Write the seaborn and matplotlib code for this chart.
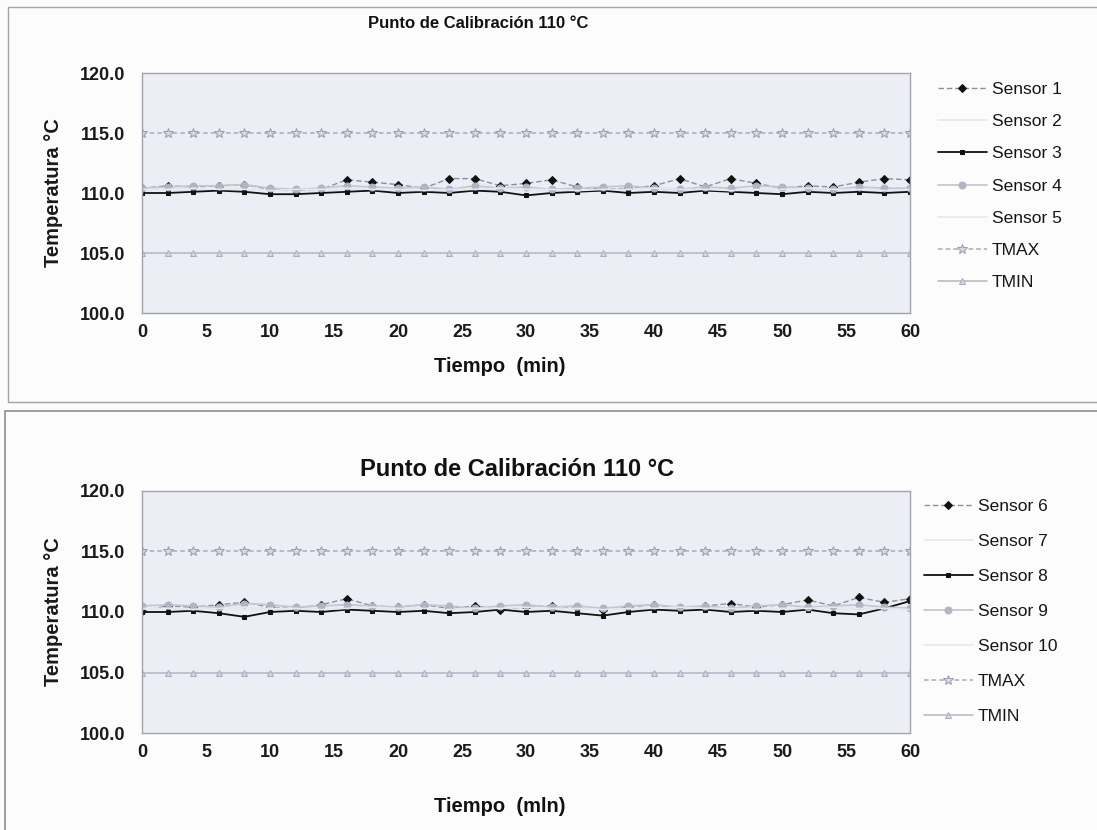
import numpy as np
import pandas as pd
import matplotlib
matplotlib.use("Agg")
import matplotlib.pyplot as plt
from matplotlib.patches import Rectangle
import seaborn as sns

# ---- data -------------------------------------------------------------
tiempo = list(range(0, 61, 2))

sensor_1 = [110.4, 110.6, 110.5, 110.6, 110.7, 110.3, 110.2, 110.3, 111.1, 110.9, 110.7,
            110.4, 111.2, 111.2, 110.6, 110.8, 111.1, 110.5, 110.3, 110.4, 110.6, 111.2,
            110.5, 111.2, 110.8, 110.4, 110.6, 110.5, 110.9, 111.2, 111.1]
sensor_2 = [110.2, 110.3, 110.2, 110.2, 110.3, 110.2, 110.1, 110.2, 110.3, 110.2, 110.2,
            110.3, 110.2, 110.2, 110.3, 110.2, 110.2, 110.1, 110.2, 110.3, 110.2, 110.2,
            110.3, 110.2, 110.2, 110.1, 110.2, 110.3, 110.2, 110.2, 110.3]
sensor_3 = [110.0, 110.0, 110.1, 110.2, 110.1, 109.9, 109.9, 110.0, 110.1, 110.2, 110.0,
            110.1, 110.0, 110.2, 110.1, 109.8, 110.0, 110.1, 110.2, 110.0, 110.1, 110.0,
            110.2, 110.1, 110.0, 109.9, 110.1, 110.0, 110.1, 110.0, 110.1]
sensor_4 = [110.4, 110.5, 110.6, 110.6, 110.7, 110.4, 110.3, 110.4, 110.6, 110.5, 110.4,
            110.5, 110.3, 110.6, 110.4, 110.5, 110.3, 110.4, 110.5, 110.6, 110.4, 110.3,
            110.5, 110.4, 110.6, 110.5, 110.4, 110.3, 110.5, 110.4, 110.4]
sensor_5 = [110.3, 110.3, 110.4, 110.3, 110.3, 110.2, 110.3, 110.3, 110.4, 110.3, 110.3,
            110.2, 110.3, 110.3, 110.4, 110.3, 110.3, 110.2, 110.3, 110.3, 110.4, 110.3,
            110.3, 110.2, 110.3, 110.3, 110.4, 110.3, 110.3, 110.2, 110.3]

sensor_6 = [110.1, 110.5, 110.4, 110.6, 110.8, 110.4, 110.3, 110.6, 111.1, 110.5, 110.4,
            110.6, 110.3, 110.5, 110.2, 110.4, 110.5, 110.3, 110.2, 110.4, 110.6, 110.3,
            110.5, 110.7, 110.4, 110.6, 111.0, 110.5, 111.2, 110.8, 111.1]
sensor_7 = [110.2, 110.3, 110.2, 110.3, 110.2, 110.2, 110.3, 110.2, 110.1, 110.2, 110.3,
            110.2, 110.2, 110.3, 110.2, 110.2, 110.1, 110.2, 110.3, 110.2, 110.2, 110.3,
            110.2, 110.2, 110.1, 110.2, 110.3, 110.2, 110.2, 110.3, 110.2]
sensor_8 = [110.0, 110.0, 110.1, 109.9, 109.6, 110.0, 110.1, 110.0, 110.2, 110.1, 110.0,
            110.1, 109.9, 110.0, 110.2, 110.0, 110.1, 109.9, 109.7, 110.0, 110.2, 110.1,
            110.2, 110.0, 110.1, 110.0, 110.2, 109.9, 109.8, 110.3, 110.9]
sensor_9 = [110.5, 110.6, 110.5, 110.4, 110.7, 110.6, 110.4, 110.5, 110.6, 110.5, 110.4,
            110.6, 110.5, 110.3, 110.5, 110.6, 110.4, 110.5, 110.3, 110.5, 110.6, 110.4,
            110.5, 110.3, 110.5, 110.6, 110.4, 110.5, 110.6, 110.4, 110.3]
sensor_10 = [110.3, 110.3, 110.2, 110.3, 110.4, 110.3, 110.3, 110.2, 110.3, 110.4, 110.3,
             110.3, 110.2, 110.3, 110.3, 110.4, 110.3, 110.3, 110.2, 110.3, 110.3, 110.4,
             110.3, 110.3, 110.2, 110.3, 110.3, 110.4, 110.3, 110.3, 110.2]

tmax = [115.0] * len(tiempo)
tmin = [105.0] * len(tiempo)

titulo = "Punto de Calibración 110 °C"
y_ticks = [100, 105, 110, 115, 120]
x_ticks = list(range(0, 61, 5))

# ---- styles per series ------------------------------------------------
estilos = {
    "diamante": dict(color="#8e8e9c", marker="D", markersize=4.5, markerfacecolor="#111111",
                     markeredgecolor="#111111", linewidth=1.0, linestyle=(0, (4, 2))),
    "claro": dict(color="#e6e7ef", marker=None, linewidth=1.2),
    "negro": dict(color="#111111", marker="s", markersize=2.5, markerfacecolor="#111111",
                  markeredgecolor="#111111", linewidth=1.3),
    "gris": dict(color="#c6c7d3", marker="o", markersize=5, markerfacecolor="#b2b3c3",
                 markeredgecolor="#b2b3c3", linewidth=1.3),
    "tmax": dict(color="#a9aabb", marker="*", markersize=7, markerfacecolor="#d8d9e4",
                 markeredgecolor="#9c9db0", linewidth=1.1, linestyle=(0, (3, 2))),
    "tmin": dict(color="#b9bac9", marker="^", markersize=5, markerfacecolor="#d6d7e2",
                 markeredgecolor="#acadbe", linewidth=1.2),
}

sns.set_style("white")
plt.rcParams["font.family"] = ["Liberation Sans", "DejaVu Sans"]

fig = plt.figure(figsize=(10.97, 8.30), dpi=100)
fig.patch.set_facecolor("#fcfcfc")

# panel frames
fig.add_artist(Rectangle((8 / 1097, 1 - 402 / 830), 1.2, (402 - 7) / 830,
                         transform=fig.transFigure, fill=False,
                         edgecolor="#a4a4a8", linewidth=1.0))
fig.add_artist(Rectangle((5 / 1097, -0.1), 1.2, 0.1 + (830 - 411) / 830,
                         transform=fig.transFigure, fill=False,
                         edgecolor="#8e8e92", linewidth=1.2))


def panel(rect, series, title_xy, title_size, xlabel, xlabel_y, legend_xy, legend_spacing):
    ax = fig.add_axes(rect)
    ax.set_facecolor("#eceef6")
    for nombre, valores, estilo in series:
        df = pd.DataFrame({"Tiempo": tiempo, "Temp": valores})
        sns.lineplot(data=df, x="Tiempo", y="Temp", ax=ax, label=nombre,
                     errorbar=None, **estilos[estilo])
    ax.set_xlim(0, 60)
    ax.set_ylim(100, 120)
    ax.set_xticks(x_ticks)
    ax.set_yticks(y_ticks)
    ax.set_yticklabels([f"{v:.1f}" for v in y_ticks])
    ax.tick_params(axis="x", labelsize=13, length=0, pad=8)
    ax.tick_params(axis="y", labelsize=13, length=0, pad=12)
    for lab in ax.get_xticklabels() + ax.get_yticklabels():
        lab.set_fontweight("bold")
        lab.set_color("#1a1a1a")
    for s in ax.spines.values():
        s.set_color("#a2a3ad")
        s.set_linewidth(1.0)
    ax.set_xlabel("")
    ax.set_ylabel("Temperatura °C", fontsize=14.5, fontweight="bold",
                  color="#1a1a1a", labelpad=12)
    fig.text(title_xy[0] / 1097, 1 - title_xy[1] / 830, titulo, ha="center", va="center",
             fontsize=title_size, fontweight="bold", color="#111111")
    fig.text(500 / 1097, 1 - xlabel_y / 830, xlabel, ha="center", va="center",
             fontsize=14.5, fontweight="bold", color="#111111")
    leg = ax.legend(loc="upper left", bbox_to_anchor=(legend_xy[0] / 1097, 1 - legend_xy[1] / 830),
                    bbox_transform=fig.transFigure, frameon=False, fontsize=12.5,
                    handlelength=2.8, handletextpad=0.3, labelspacing=legend_spacing,
                    borderaxespad=0, borderpad=0)
    for t in leg.get_texts():
        t.set_color("#151515")
    return ax


panel([142 / 1097, 1 - 313 / 830, 768 / 1097, 240 / 830],
      [("Sensor 1", sensor_1, "diamante"),
       ("Sensor 2", sensor_2, "claro"),
       ("Sensor 3", sensor_3, "negro"),
       ("Sensor 4", sensor_4, "gris"),
       ("Sensor 5", sensor_5, "claro"),
       ("TMAX", tmax, "tmax"),
       ("TMIN", tmin, "tmin")],
      (478, 23), 12, "Tiempo  (min)", 366, (938, 82), 0.98)

panel([142 / 1097, 1 - 733 / 830, 768 / 1097, 242 / 830],
      [("Sensor 6", sensor_6, "diamante"),
       ("Sensor 7", sensor_7, "claro"),
       ("Sensor 8", sensor_8, "negro"),
       ("Sensor 9", sensor_9, "gris"),
       ("Sensor 10", sensor_10, "claro"),
       ("TMAX", tmax, "tmax"),
       ("TMIN", tmin, "tmin")],
      (517, 469), 17, "Tiempo  (mln)", 806, (924, 499), 1.14)

fig.savefig("out.png", dpi=100, facecolor=fig.get_facecolor())
